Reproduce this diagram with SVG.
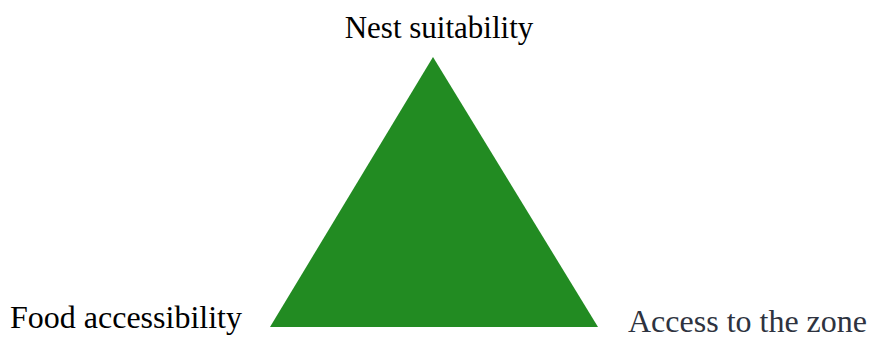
<svg xmlns="http://www.w3.org/2000/svg" width="869" height="340" viewBox="0 0 869 340">
<style>
.dark { fill: #000; }
.slate { fill: #2e3340; }
</style>
<rect width="869" height="340" fill="#fff"/>
<g id="triangle">
<polygon points="433,57 270,327 598,327" fill="#228B22"/>
</g>
<g id="connectors"></g>
<g font-family="'Liberation Serif', 'Times New Roman', serif">
<g id="node-nest"><text class="dark" x="439" y="38" font-size="31" text-anchor="middle">Nest suitability</text></g>
<g id="node-food"><text class="dark" x="10" y="328" font-size="32">Food accessibility</text></g>
<g id="node-access"><text class="slate" x="628" y="332" font-size="32">Access to the zone</text></g>
</g>
</svg>
